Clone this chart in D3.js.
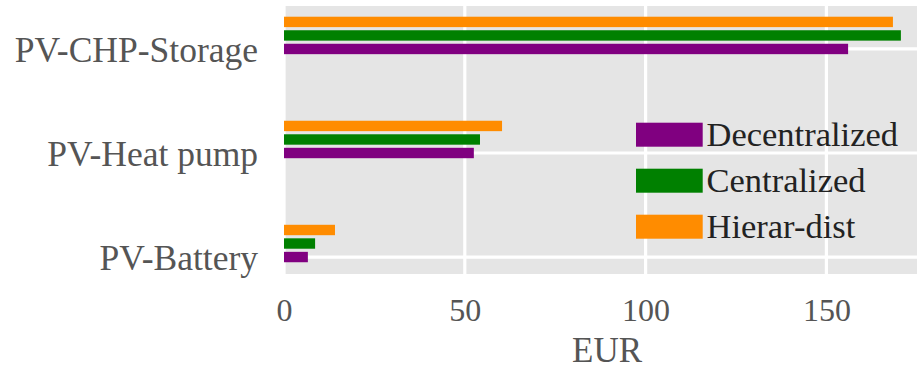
<!DOCTYPE html>
<html>
<head>
<meta charset="utf-8">
<script src="https://cdn.jsdelivr.net/npm/d3@7"></script>
<style>
    body { margin: 0; background: #fff; }
    svg { display: block; }
</style>
</head>
<body>
<div id="chart"></div>
<script>
// data
const categories = ['PV-Battery', 'PV-Heat pump', 'PV-CHP-Storage'];
const seriesNames = ['Decentralized', 'Centralized', 'Hierar-dist'];
const decentralized = [6.6, 52.5, 156.0];
const centralized = [8.6, 54.2, 170.6];
const hierarDist = [14.1, 60.3, 168.4];
const xTicks = [0, 50, 100, 150];
const xLabel = 'EUR';

const colors = ['#800080', '#008000', '#ff8c00'];
const series = [decentralized, centralized, hierarDist].map((values, k) => {
    return {name: seriesNames[k], color: colors[k], offset: k * 0.13, values: values};
});

const width = 917;
const height = 369;
const font = '"Liberation Serif", "Times New Roman", serif';

// axes box (right side runs past the window edge, like the source)
const box = {left: 284, right: 930, top: 6, bottom: 274};

const x = d3.scaleLinear()
    .domain([0, (box.right - box.left) / 3.616])
    .range([box.left, box.right]);
const y = d3.scaleLinear()
    .domain([-0.163, 2.413])
    .range([box.bottom, box.top]);
const barH = y(0) - y(0.1);

const svg = d3.select('#chart').append('svg')
    .attr('width', width)
    .attr('height', height)
    .style('font-family', font);

svg.append('rect')
    .attr('x', box.left)
    .attr('y', box.top)
    .attr('width', box.right - box.left)
    .attr('height', box.bottom - box.top)
    .attr('fill', '#e5e5e5');

// grid
svg.append('g').selectAll('line')
    .data(xTicks)
    .enter()
.append('line')
    .attr('x1', (d) => x(d))
    .attr('x2', (d) => x(d))
    .attr('y1', box.top)
    .attr('y2', box.bottom)
    .attr('stroke', '#fff')
    .attr('stroke-width', 3.2);

svg.append('g').selectAll('line')
    .data(categories.map((c, i) => i))
    .enter()
.append('line')
    .attr('x1', box.left)
    .attr('x2', box.right)
    .attr('y1', (d) => y(d))
    .attr('y2', (d) => y(d))
    .attr('stroke', '#fff')
    .attr('stroke-width', 3.2);

// bars
const group = svg.selectAll('.series')
    .data(series)
    .enter()
.append('g')
    .attr('class', 'series')
    .attr('fill', (d) => d.color);

group.selectAll('rect')
    .data((s) => s.values.map((v, i) => ({v: v, pos: i + s.offset})))
    .enter()
.append('rect')
    .attr('x', x(0))
    .attr('y', (d) => y(d.pos) - barH / 2)
    .attr('width', (d) => x(d.v) - x(0))
    .attr('height', barH);

// axes
const xAxis = svg.append('g')
    .attr('transform', 'translate(0,' + box.bottom + ')')
    .call(d3.axisBottom(x).tickValues(xTicks).tickSize(0).tickPadding(24));
xAxis.select('.domain').remove();
xAxis.selectAll('text')
    .style('font-family', font)
    .style('font-size', '32px')
    .attr('fill', '#555');

const yAxis = svg.append('g')
    .attr('transform', 'translate(' + box.left + ',0)')
    .call(d3.axisLeft(y)
        .tickValues(categories.map((c, i) => i))
        .tickFormat((i) => categories[i])
        .tickSize(0)
        .tickPadding(26));
yAxis.select('.domain').remove();
yAxis.selectAll('text')
    .attr('dy', '0.34em')
    .style('font-family', font)
    .style('font-size', '35.5px')
    .attr('fill', '#555');

svg.append('text')
    .attr('x', (box.left + box.right) / 2)
    .attr('y', 361.5)
    .attr('text-anchor', 'middle')
    .style('font-size', '35px')
    .attr('fill', '#555')
    .text(xLabel);

// legend
const legend = svg.append('g')
    .attr('transform', 'translate(636,134.7)');

const item = legend.selectAll('.item')
    .data(series)
    .enter()
.append('g')
    .attr('class', 'item')
    .attr('transform', (d, i) => 'translate(0,' + i * 46 + ')');

item.append('rect')
    .attr('x', 0)
    .attr('y', -12)
    .attr('width', 66.7)
    .attr('height', 24)
    .attr('fill', (d) => d.color);

item.append('text')
    .attr('x', 70.5)
    .attr('y', 11.3)
    .style('font-size', '34.5px')
    .attr('fill', '#222')
    .text((d) => d.name);
</script>
</body>
</html>
